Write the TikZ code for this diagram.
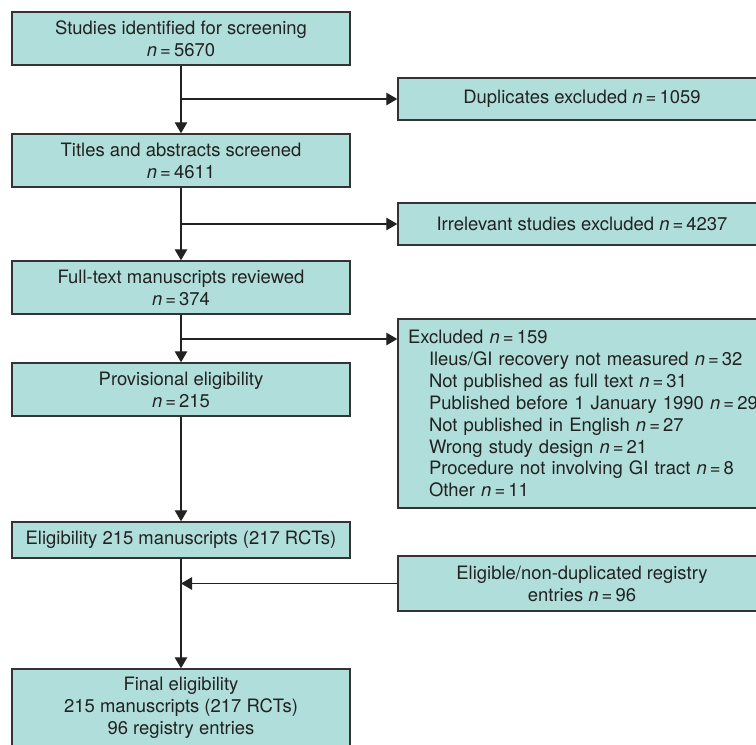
\documentclass[tikz,border=0pt]{standalone}
\usepackage{fontspec}
\setmainfont{TeX Gyre Heros}
\usepackage{tikz}
\usetikzlibrary{arrows.meta, positioning, calc}
\definecolor{boxfill}{HTML}{B0DEDA}
\definecolor{boxline}{HTML}{333333}
\definecolor{ink}{HTML}{222222}
\tikzset{box/.style = {rectangle, draw=boxline, fill=boxfill, line width=0.8pt, text=ink,
                       inner sep=0pt, align=center, font=\fontsize{10.5}{12.5}\selectfont},
         leftbox/.style = {box, minimum width=6.76cm, minimum height=1.06cm},
         rightbox/.style = {box, minimum width=7.36cm, minimum height=0.84cm},
         flow/.style = {draw=ink, line width=0.75pt, -{Triangle[width=0.25cm, length=0.22cm]}}}
\newcommand{\nval}[1]{\textit{n}\,=\,#1}

\begin{document}
\begin{tikzpicture}
        \useasboundingbox (0, 0) rectangle (15.12, 14.88);
        \clip (0, 0) rectangle (15.12, 14.88);

        \node [leftbox] (S1) at (3.62, 14.11) {Studies identified for screening\\ \nval{5670}};
        \node [leftbox] (S2) at (3.62, 11.67) {Titles and abstracts screened\\ \nval{4611}};
        \node [leftbox] (S3) at (3.62,  9.13) {Full-text manuscripts reviewed\\ \nval{374}};
        \node [leftbox] (S4) at (3.62,  7.09) {Provisional eligibility\\ \nval{215}};
        \node [leftbox, minimum height=0.72cm] (S5) at (3.62, 4.08) {Eligibility 215 manuscripts (217 RCTs)};
        \node [leftbox, minimum height=1.54cm] (S6) at (3.62, 0.73)
              {Final eligibility\\ 215 manuscripts (217 RCTs)\\ 96 registry entries};

        \node [rightbox] (D) at (11.64, 12.90) {Duplicates excluded \nval{1059}};
        \node [rightbox] (I) at (11.64, 10.40) {Irrelevant studies excluded \nval{4237}};
        \node [rightbox, minimum height=3.78cm, text width=7.4cm, inner xsep=0.2cm, align=left] (E)
              at (11.86, 6.61)
              {Excluded \nval{159}\\
               \hspace*{0.42cm}Ileus/GI recovery not measured \nval{32}\\
               \hspace*{0.42cm}Not published as full text \nval{31}\\
               \hspace*{0.42cm}Published before 1 January 1990 \nval{29}\\
               \hspace*{0.42cm}Not published in English \nval{27}\\
               \hspace*{0.42cm}Wrong study design \nval{21}\\
               \hspace*{0.42cm}Procedure not involving GI tract \nval{8}\\
               \hspace*{0.42cm}Other \nval{11}};
        \node [rightbox, minimum height=1.10cm] (R) at (11.64, 3.21)
              {Eligible/non-duplicated registry\\ entries \nval{96}};

        \coordinate (BD) at (S1.south |- D.west);
        \coordinate (BI) at (S2.south |- I.west);
        \coordinate (BE) at (3.62, 8.10);
        \coordinate (BR) at (S5.south |- R.west);

        \draw [flow] (S1) -- (S2);
        \draw [flow] (S2) -- (S3);
        \draw [flow] (S3) -- (S4);
        \draw [flow] (S4) -- (S5);
        \draw [flow] (S5) -- (S6);

        \draw [flow] (BD) -- (D);
        \draw [flow] (BI) -- (I);
        \draw [flow] (BE) -- (BE -| E.west);
        \draw [flow] (R) -- (BR);
    \end{tikzpicture}
\end{document}
